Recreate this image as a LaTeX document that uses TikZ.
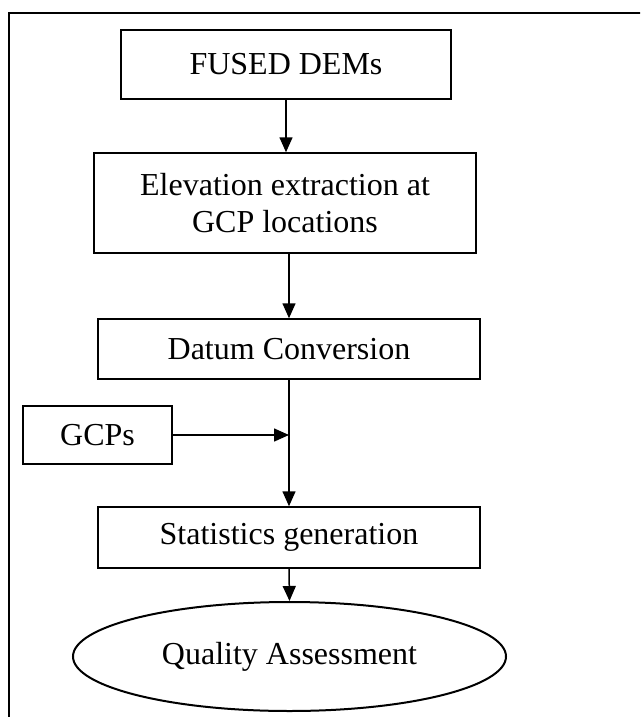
\documentclass[tikz,border=0pt]{standalone}
\usepackage{fontspec}
\setmainfont{Liberation Serif}
\usetikzlibrary{shapes.geometric,arrows.meta}
\begin{document}
\begin{tikzpicture}[x=1pt,y=-1pt,
  font=\fontsize{32}{37}\selectfont,
  boxnode/.style={draw,line width=1.5pt,inner sep=0pt,align=center,anchor=center},
  ovalnode/.style={draw,ellipse,line width=2pt,inner sep=0pt,anchor=center},
  arr/.style={line width=1.5pt,-{Triangle[length=15pt,width=13pt]}},
  frameline/.style={line width=1.5pt}]
\useasboundingbox (0,0) rectangle (640,717);
\clip (0,0) rectangle (640,717);
\draw[frameline] (9,13) rectangle (700,780);
\node[boxnode,minimum width=330pt,minimum height=69pt] (fused) at (286,64.5) {FUSED DEMs};
\node[boxnode,minimum width=382pt,minimum height=100pt] (elev) at (285,203) {Elevation extraction at\\GCP locations};
\node[boxnode,minimum width=382pt,minimum height=60pt] (datum) at (289,349) {Datum Conversion};
\node[boxnode,minimum width=149pt,minimum height=58pt] (gcp) at (97.5,435) {GCPs};
\node[boxnode,minimum width=382pt,minimum height=61pt] (stats) at (289,537.5) {Statistics generation};
\node[ovalnode,minimum width=433pt,minimum height=109pt] (qa) at (289.5,656.5) {Quality Assessment};
\coordinate (join) at (289,435);
\draw[arr] (fused.south) -- (fused.south |- elev.north);
\draw[arr] (datum.north |- elev.south) -- (datum.north);
\draw[arr] (datum.south) -- (stats.north);
\draw[arr] (gcp.east) -- (join);
\draw[arr] (stats.south) -- (qa.north);
\end{tikzpicture}
\end{document}
